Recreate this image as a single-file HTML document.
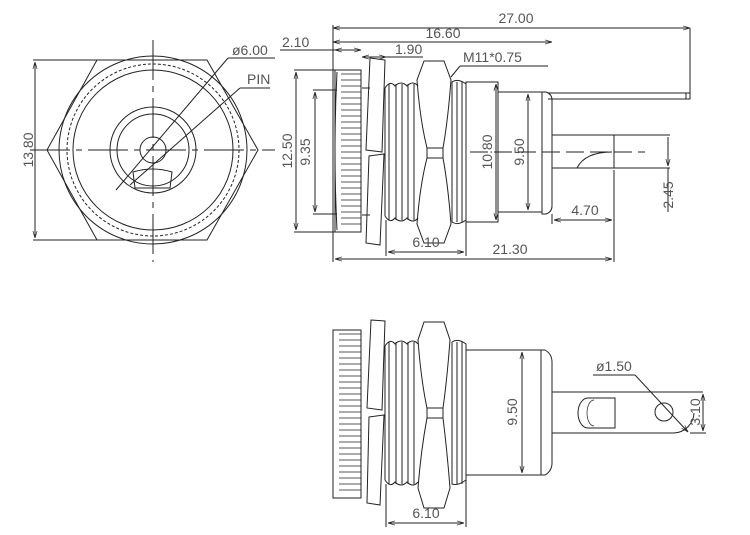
<!DOCTYPE html>
<html><head><meta charset="utf-8"><style>
html,body{margin:0;padding:0;background:#fff;}
svg{display:block}
text{font-family:"Liberation Sans",sans-serif;font-size:14px;fill:#555;stroke:none}
</style></head><body>
<svg width="750" height="535" viewBox="0 0 750 535" xmlns="http://www.w3.org/2000/svg" fill="none" stroke="#222" stroke-width="1">
<defs>
<marker id="a" viewBox="0 0 10 10" refX="10" refY="5" markerWidth="7" markerHeight="7" orient="auto-start-reverse"><path d="M0,2 L10,5 L0,8" fill="none" stroke="#222"/></marker>
</defs>
<g>
<polygon points="97,60 207,60 258,150 207,240 97,240 47,150"/>
<circle cx="153" cy="150" r="94"/>
<circle cx="153" cy="150" r="86" stroke-dasharray="3 2"/>
<circle cx="153" cy="150" r="80"/>
<circle cx="153" cy="150" r="43"/>
<circle cx="153" cy="150" r="36"/>
<circle cx="153" cy="150" r="13"/>
<path d="M133,172 Q153,166 172,172 L170,188 L135,188 Z"/>
<line x1="153" y1="40" x2="153" y2="262" stroke-dasharray="40 6 6 6"/>
<line x1="30" y1="150" x2="275" y2="150" stroke-dasharray="40 6 6 6"/>
<line x1="33" y1="60" x2="97" y2="60"/><line x1="33" y1="240" x2="97" y2="240"/>
<line x1="35" y1="62" x2="35" y2="238" marker-start="url(#a)" marker-end="url(#a)"/>
<text x="33" y="150" transform="rotate(-90 33 150)" text-anchor="middle">13.80</text>
<line x1="116" y1="190" x2="228" y2="58"/><line x1="228" y1="58" x2="275" y2="58"/>
<text x="232" y="55">ø6.00</text>
<line x1="130" y1="185" x2="240" y2="88"/><line x1="240" y1="88" x2="270" y2="88"/>
<text x="247" y="84">PIN</text>
</g>
<g>
<line x1="333" y1="28" x2="690" y2="28" marker-start="url(#a)" marker-end="url(#a)"/>
<text x="516" y="23" text-anchor="middle">27.00</text>
<line x1="333" y1="42" x2="552" y2="42" marker-start="url(#a)" marker-end="url(#a)"/>
<text x="443" y="38" text-anchor="middle">16.60</text>
<line x1="333" y1="25" x2="333" y2="262"/>
<line x1="280" y1="50" x2="361" y2="50"/><line x1="335" y1="50" x2="361" y2="50" marker-start="url(#a)" marker-end="url(#a)"/>
<text x="282" y="47">2.10</text>
<line x1="362" y1="57" x2="386" y2="57" marker-start="url(#a)" marker-end="url(#a)"/>
<line x1="386" y1="57" x2="423" y2="57"/>
<text x="395" y="54">1.90</text>
<text x="463" y="62">M11*0.75</text>
<line x1="460" y1="66" x2="548" y2="66"/><line x1="460" y1="66" x2="451" y2="77"/>
<rect x="335" y="70" width="26" height="162"/>
<path d="M337,72 Q333,151 337,230"/>
<g stroke-width="0.7">
<path d="M341,74 H361 M341,80 H361 M341,86 H361 M341,92 H361 M341,98 H361 M341,104 H361 M341,110 H361 M341,116 H361 M341,122 H361 M341,128 H361 M341,134 H361 M341,140 H361 M341,146 H361 M341,152 H361 M341,158 H361 M341,164 H361 M341,170 H361 M341,176 H361 M341,182 H361 M341,188 H361 M341,194 H361 M341,200 H361 M341,206 H361 M341,212 H361 M341,218 H361 M341,224 H361"/>
</g>
<polygon points="370,58 385,60 382,152 366,150"/>
<polygon points="369,156 384,154 380,245 366,243"/>
<line x1="362" y1="88" x2="370" y2="88"/><line x1="362" y1="215" x2="370" y2="215"/>
<path d="M385,88 Q390,80 395,86 Q401,80 407,86 Q413,80 418,86 M385,216 Q390,224 395,218 Q401,224 407,218 Q413,224 418,218"/>
<path d="M385,88 V216 M389,84 V220 M396,84 V220 M402,84 V220 M408,84 V220 M414,84 V220"/>
<path d="M424,61 L444,61 L451,80 Q448,120 443,148 L443,158 Q448,185 451,224 L444,243 L424,243 L417,224 Q420,185 427,158 L427,148 Q420,120 417,80 Z"/>
<line x1="427" y1="148" x2="443" y2="148"/><line x1="427" y1="158" x2="443" y2="158"/>
<path d="M452,82 Q458,78 466,84 V220 Q458,226 452,222 Z M457,82 V222 M462,82 V222"/>
<rect x="466" y="82" width="32" height="140"/>
<rect x="498" y="92" width="44" height="120"/>
<path d="M542,92 H546 Q552,94 552,100 V206 Q552,212 546,214 H542 Z"/>
<line x1="496" y1="84" x2="496" y2="220" marker-start="url(#a)" marker-end="url(#a)"/>
<text x="492" y="152" transform="rotate(-90 492 152)" text-anchor="middle">10.80</text>
<line x1="528" y1="94" x2="528" y2="210" marker-start="url(#a)" marker-end="url(#a)"/>
<text x="524" y="152" transform="rotate(-90 524 152)" text-anchor="middle">9.50</text>
<path d="M548,93 H690 V28 M548,99 H690 V93 M686,93 V99"/>
<path d="M552,135 H614 V168 H552"/>
<line x1="614" y1="135" x2="670" y2="135"/>
<line x1="614" y1="168" x2="670" y2="168"/>
<path d="M577,168 Q585,152 612,152"/>
<line x1="470" y1="152" x2="645" y2="152" stroke-dasharray="18 6"/>
<line x1="668" y1="137" x2="668" y2="166" marker-end="url(#a)"/>
<line x1="668" y1="168" x2="668" y2="212"/>
<text x="673" y="195" transform="rotate(-90 673 195)" text-anchor="middle">2.45</text>
<line x1="614" y1="170" x2="614" y2="262"/>
<line x1="552" y1="214" x2="552" y2="224"/>
<line x1="554" y1="220" x2="612" y2="220" marker-start="url(#a)" marker-end="url(#a)"/>
<text x="585" y="215" text-anchor="middle">4.70</text>
<line x1="335" y1="259" x2="612" y2="259" marker-start="url(#a)" marker-end="url(#a)"/>
<text x="510" y="254" text-anchor="middle">21.30</text>
<line x1="386" y1="220" x2="386" y2="256"/><line x1="466" y1="220" x2="466" y2="256"/>
<line x1="388" y1="252" x2="464" y2="252" marker-start="url(#a)" marker-end="url(#a)"/>
<text x="426" y="247" text-anchor="middle">6.10</text>
<line x1="296" y1="72" x2="296" y2="230" marker-start="url(#a)" marker-end="url(#a)"/>
<line x1="294" y1="70" x2="337" y2="70"/><line x1="294" y1="232" x2="337" y2="232"/>
<text x="292" y="151" transform="rotate(-90 292 151)" text-anchor="middle">12.50</text>
<line x1="315" y1="92" x2="315" y2="212" marker-start="url(#a)" marker-end="url(#a)"/>
<line x1="313" y1="90" x2="337" y2="90"/><line x1="313" y1="214" x2="337" y2="214"/>
<text x="310" y="152" transform="rotate(-90 310 152)" text-anchor="middle">9.35</text>
</g>
<g>
<rect x="333" y="330" width="28" height="168"/>
<g stroke-width="0.7">
<path d="M339,334 H361 M339,340 H361 M339,346 H361 M339,352 H361 M339,358 H361 M339,364 H361 M339,370 H361 M339,376 H361 M339,382 H361 M339,388 H361 M339,394 H361 M339,400 H361 M339,406 H361 M339,412 H361 M339,418 H361 M339,424 H361 M339,430 H361 M339,436 H361 M339,442 H361 M339,448 H361 M339,454 H361 M339,460 H361 M339,466 H361 M339,472 H361 M339,478 H361 M339,484 H361 M339,490 H361"/>
</g>
<polygon points="371,320 385,321 382,410 367,408"/>
<polygon points="369,417 384,415 380,505 367,503"/>
<path d="M385,346 Q390,338 395,344 Q401,338 407,344 Q413,338 418,344 M385,480 Q390,488 395,482 Q401,488 407,482 Q413,488 418,482"/>
<path d="M385,346 V480 M389,342 V484 M396,342 V484 M402,342 V484 M408,342 V484 M414,342 V484"/>
<path d="M424,322 L444,322 L450,340 Q447,380 443,408 L443,418 Q447,450 450,488 L444,508 L424,508 L418,488 Q421,450 427,418 L427,408 Q421,380 418,340 Z"/>
<line x1="427" y1="408" x2="443" y2="408"/><line x1="427" y1="418" x2="443" y2="418"/>
<path d="M452,342 Q458,338 466,344 V480 Q458,486 452,484 Z M457,342 V484 M462,342 V484"/>
<rect x="466" y="350" width="75" height="125"/>
<path d="M541,350 H545 Q552,354 552,362 V463 Q552,471 545,475 H541 Z"/>
<line x1="522" y1="352" x2="522" y2="473" marker-start="url(#a)" marker-end="url(#a)"/>
<text x="517" y="412" transform="rotate(-90 517 412)" text-anchor="middle">9.50</text>
<path d="M552,392 H703 M552,433 H674 A21,21 0 0 0 694,413"/>
<path d="M615,398 H588 A10,15 0 0 0 588,428 H615 Z"/>
<path d="M594,400 A7,13 0 0 0 594,426" stroke-width="0.7"/>
<circle cx="664" cy="412" r="9"/>
<line x1="593" y1="375" x2="635" y2="375"/><line x1="635" y1="375" x2="688" y2="432" marker-end="url(#a)"/>
<text x="596" y="371">ø1.50</text>
<line x1="703" y1="394" x2="703" y2="431" marker-start="url(#a)" marker-end="url(#a)"/>
<line x1="690" y1="433" x2="706" y2="433"/>
<text x="700" y="412" transform="rotate(-90 700 412)" text-anchor="middle">3.10</text>
<line x1="386" y1="484" x2="386" y2="527"/><line x1="466" y1="475" x2="466" y2="527"/>
<line x1="388" y1="523" x2="464" y2="523" marker-start="url(#a)" marker-end="url(#a)"/>
<text x="426" y="518" text-anchor="middle">6.10</text>
</g>
</svg>
</body></html>
